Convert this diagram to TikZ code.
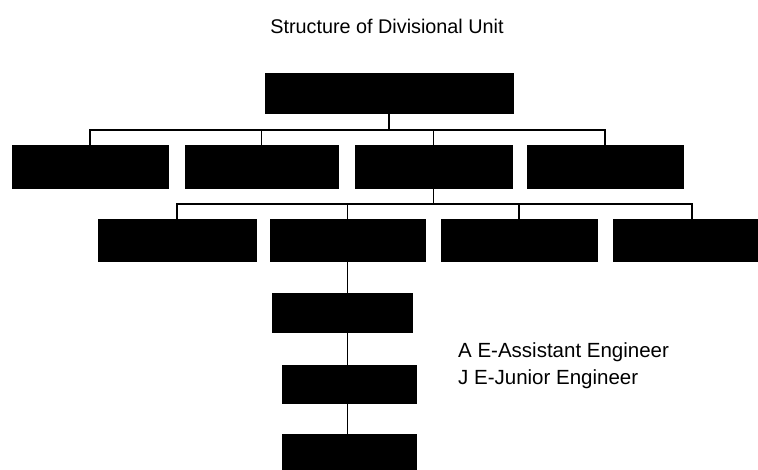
\documentclass[tikz,border=0pt]{standalone}
\usepackage{fontspec}
\setmainfont{Liberation Sans}
\usetikzlibrary{positioning, calc}

\tikzset{
    unitbox/.style={draw=black, fill=black, inner sep=0pt},
    link/.style={black, line width=1.6pt},
    legend/.style={anchor=base west, inner sep=0pt, font=\fontsize{20.5}{24}\selectfont}
}

\begin{document}
\begin{tikzpicture}[x=1pt, y=-1pt]
    \useasboundingbox (0,0) rectangle (758,469);

    \node[anchor=base, inner sep=0pt, font=\fontsize{19.8}{24}\selectfont] (title) at (387,33) {Structure of Divisional Unit};

    % Head of division
    \node[unitbox, minimum width=248pt, minimum height=40pt] (head) at (389,93) {};

    % First level
    \node[unitbox, minimum width=156pt, minimum height=43pt] (subA) at (90,166.5) {};
    \node[unitbox, minimum width=153pt, minimum height=43pt] (subB) at (261.5,166.5) {};
    \node[unitbox, minimum width=157pt, minimum height=43pt] (subC) at (433.5,166.5) {};
    \node[unitbox, minimum width=156pt, minimum height=43pt] (subD) at (605,166.5) {};

    % Second level
    \node[unitbox, minimum width=158pt, minimum height=42pt] (secA) at (177,240) {};
    \node[unitbox, minimum width=155pt, minimum height=42pt] (secB) at (347.5,240) {};
    \node[unitbox, minimum width=156pt, minimum height=42pt] (secC) at (519,240) {};
    \node[unitbox, minimum width=144pt, minimum height=42pt] (secD) at (685,240) {};

    % Chain below
    \node[unitbox, minimum width=140pt, minimum height=39pt] (ae) at (342,312.5) {};
    \node[unitbox, minimum width=134pt, minimum height=38pt] (je) at (349,384) {};
    \node[unitbox, minimum width=134pt, minimum height=36pt] (staff) at (349,452) {};

    % Connectors
    \coordinate (busA) at (0,130);
    \coordinate (busB) at (0,204);
    \foreach \n in {subA,subB,subC,subD}
        \draw[link] (head.south) |- (busA -| \n.north) -- (\n.north);
    \foreach \n in {secA,secB,secC}
        \draw[link] (subC.south) |- (busB -| \n.north) -- (\n.north);
    \draw[link] (subC.south) |- (busB -| 692,0) -- (692,0 |- secD.north);
    \draw[link] (secB.south) -- (secB.south |- ae.north);
    \draw[link] (secB.south |- ae.south) -- (secB.south |- je.north);
    \draw[link] (secB.south |- je.south) -- (secB.south |- staff.north);

    % Legend
    \node[legend] (keyAE) at (458,357) {A E-Assistant Engineer};
    \node[legend] (keyJE) at (458,384) {J E-Junior Engineer};
\end{tikzpicture}
\end{document}
